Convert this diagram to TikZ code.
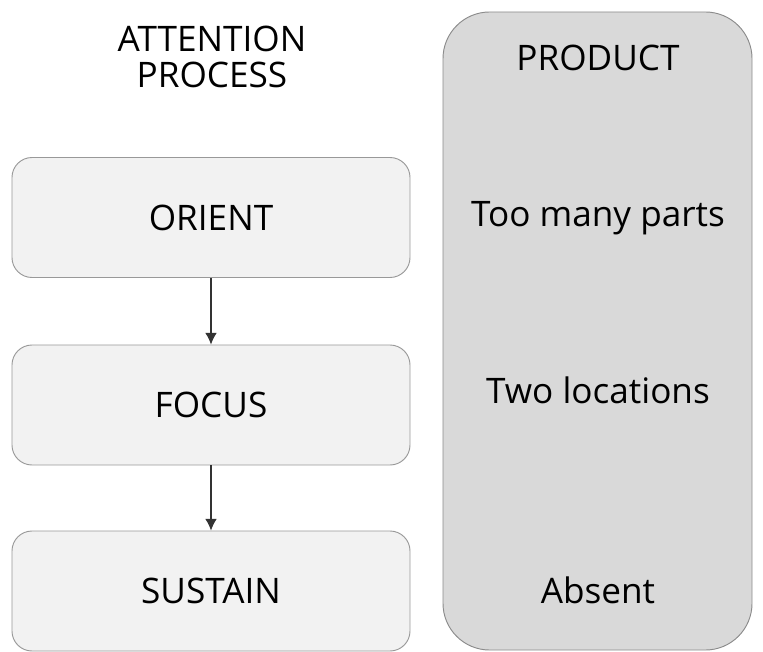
\documentclass[tikz,border=0pt]{standalone}
\usepackage{fontspec}
\setmainfont{Open Sans}
\usetikzlibrary{arrows.meta}

\begin{document}
\begin{tikzpicture}[x=0.03cm,y=-0.03cm,
    stage/.style={draw=black!40,fill=black!5,rounded corners=0.6cm,line width=0.8pt,
        minimum width=11.94cm,minimum height=3.6cm,font=\fontsize{30}{30}\selectfont},
    panel/.style={draw=black!45,fill=black!15,rounded corners=1.4cm,line width=0.8pt,
        minimum width=9.27cm,minimum height=19.14cm},
    label/.style={font=\fontsize{30}{30}\selectfont},
    flow/.style={draw=black!80,line width=0.9pt,-{Latex[length=10pt,width=10pt]}}]
                \useasboundingbox (0,0) rectangle (763,652);
                \node [label,align=center] (title) at (212,57) {ATTENTION\\PROCESS};
                \node [stage] (orient) at (211,217.5) {ORIENT};
                \node [stage] (focus) at (211,405) {FOCUS};
                \node [stage] (sustain) at (211,591) {SUSTAIN};
                \draw [flow] (orient) -- (focus);
                \draw [flow] (focus) -- (sustain);
                \node [panel] (product) at (597.5,331) {};
                \node [label] (head) at (598,58) {PRODUCT};
                \node [label] (parts) at (598,218) {Too many parts};
                \node [label] (places) at (598,390) {Two locations};
                \node [label] (absent) at (598,590) {Absent};
            \end{tikzpicture}
\end{document}
